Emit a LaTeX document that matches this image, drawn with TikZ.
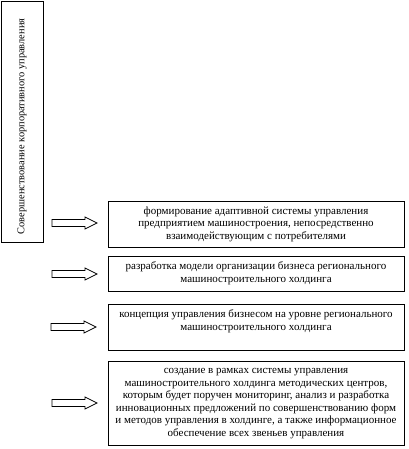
\documentclass[tikz,border=0pt]{standalone}
\usepackage{fontspec}
\setmainfont{Liberation Serif}
\newcommand{\boxfont}{\fontsize{11}{12.6}\selectfont}
\newcommand{\vfont}{\fontsize{10.4}{12}\selectfont}
\newcommand{\hollowarrow}[1]{%
  \draw[arrowline] (#1) ++(0,-3.5) -- ++(33,0) -- ++(0,-2.5) -- ++(12,6)
    -- ++(-12,6) -- ++(0,-2.5) -- ++(-33,0) -- cycle;}
\begin{document}
\begin{tikzpicture}[x=1pt,y=-1pt,
  box/.style={draw, line width=0.8pt, inner sep=0pt, align=center, font=\boxfont},
  txt/.style={inner sep=0pt, align=center, font=\boxfont},
  arrowline/.style={draw, line width=0.8pt, line join=miter}]
\useasboundingbox (0,0) rectangle (408,449);
\node[box, minimum width=241, minimum height=42, rotate=90, font=\vfont] (main) at (22,121.5)
  {Совершенствование корпоративного управления\kern10pt};
\node[box, minimum width=296, minimum height=46] (b1) at (256,224)
  {формирование адаптивной системы управления\\
   предприятием машиностроения, непосредственно\\
   взаимодействующим с потребителями};
\node[box, minimum width=296, minimum height=35] (b2) at (256,273.5)
  {разработка модели организации бизнеса регионального\\
   машиностроительного холдинга};
\node[box, minimum width=296, minimum height=46] (b3) at (256,327) {};
\node[txt] (t3) at (256,321)
  {концепция управления бизнесом на уровне регионального\\
   машиностроительного холдинга};
\node[box, minimum width=296, minimum height=84] (b4) at (256,403.5)
  {создание в рамках системы управления\\
   машиностроительного холдинга методических центров,\\
   которым будет поручен мониторинг, анализ и разработка\\
   инновационных предложений по совершенствованию форм\\
   и методов управления в холдинге, а также информационное\\
   обеспечение всех звеньев управления};
\coordinate (a1) at (52,223);
\coordinate (a2) at (52,274);
\coordinate (a3) at (51,327);
\coordinate (a4) at (52,403);
\hollowarrow{a1}
\hollowarrow{a2}
\hollowarrow{a3}
\hollowarrow{a4}
\end{tikzpicture}
\end{document}
